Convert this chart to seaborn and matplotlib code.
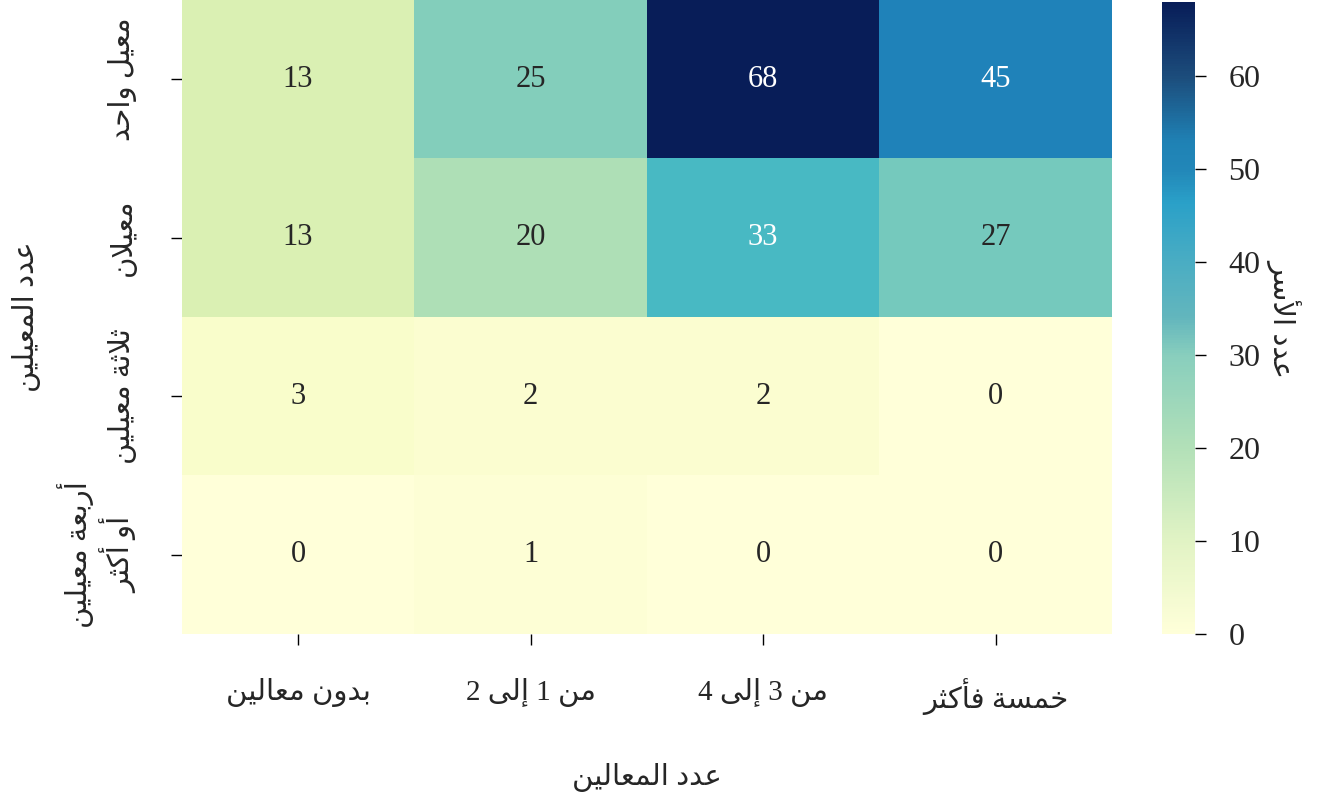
import re

import matplotlib
matplotlib.use("Agg")
import matplotlib.pyplot as plt
import pandas as pd
import seaborn as sns
from matplotlib.cm import ScalarMappable
from matplotlib.colors import LinearSegmentedColormap, Normalize

# --- data -------------------------------------------------------------
ROW_LABELS = ["معيل واحد", "معيلان", "ثلاثة معيلين", "أربعة معيلين\nأو أكثر"]
COL_LABELS = ["بدون معالين", "من 1 إلى 2", "من 3 إلى 4", "خمسة فأكثر"]
ROW_1 = [13, 25, 68, 45]
ROW_2 = [13, 20, 33, 27]
ROW_3 = [3, 2, 2, 0]
ROW_4 = [0, 1, 0, 0]
X_TITLE = "عدد المعالين"
Y_TITLE = "عدد المعيلين"
CBAR_TITLE = "عدد الأسر"
CBAR_TICKS = [0, 10, 20, 30, 40, 50, 60]
VMAX = 68

# the legend bar in the original is a smoother gradient than the cells
CBAR_STOP_VALUES = [0, 10, 20, 30, 34, 40, 46.5, 50, 53, 60, 68]
CBAR_STOP_COLORS = ["#ffffd9", "#e1f3c4", "#b2e0b8", "#88cebd", "#63b6bd",
                    "#4aadc3", "#2aa0c8", "#2287b8", "#1f82b5", "#1c4d7c",
                    "#081d58"]

# --- minimal arabic shaping (matplotlib has no text shaping) -----------
# letter: (isolated, final, initial, medial)
_FORMS = {
    "ا": (0xFE8D, 0xFE8E, None, None),
    "أ": (0xFE83, 0xFE84, None, None),
    "إ": (0xFE87, 0xFE88, None, None),
    "ب": (0xFE8F, 0xFE90, 0xFE91, 0xFE92),
    "ة": (0xFE93, 0xFE94, None, None),
    "ت": (0xFE95, 0xFE96, 0xFE97, 0xFE98),
    "ث": (0xFE99, 0xFE9A, 0xFE9B, 0xFE9C),
    "ح": (0xFEA1, 0xFEA2, 0xFEA3, 0xFEA4),
    "خ": (0xFEA5, 0xFEA6, 0xFEA7, 0xFEA8),
    "د": (0xFEA9, 0xFEAA, None, None),
    "ر": (0xFEAD, 0xFEAE, None, None),
    "س": (0xFEB1, 0xFEB2, 0xFEB3, 0xFEB4),
    "ع": (0xFEC9, 0xFECA, 0xFECB, 0xFECC),
    "ف": (0xFED1, 0xFED2, 0xFED3, 0xFED4),
    "ك": (0xFED9, 0xFEDA, 0xFEDB, 0xFEDC),
    "ل": (0xFEDD, 0xFEDE, 0xFEDF, 0xFEE0),
    "م": (0xFEE1, 0xFEE2, 0xFEE3, 0xFEE4),
    "ن": (0xFEE5, 0xFEE6, 0xFEE7, 0xFEE8),
    "ه": (0xFEE9, 0xFEEA, 0xFEEB, 0xFEEC),
    "و": (0xFEED, 0xFEEE, None, None),
    "ى": (0xFEEF, 0xFEF0, None, None),
    "ي": (0xFEF1, 0xFEF2, 0xFEF3, 0xFEF4),
}
_LAM_ALEF = {"ا": (0xFEFB, 0xFEFC), "أ": (0xFEF7, 0xFEF8), "إ": (0xFEF9, 0xFEFA)}


def _shape(text):
    res = []
    prev_join = False
    i = 0
    while i < len(text):
        c = text[i]
        nxt = text[i + 1] if i + 1 < len(text) else ""
        if c == "ل" and nxt in _LAM_ALEF:
            iso, fin = _LAM_ALEF[nxt]
            res.append(chr(fin if prev_join else iso))
            prev_join = False
            i += 2
            continue
        f = _FORMS.get(c)
        if f is None:
            res.append(c)
            prev_join = False
            i += 1
            continue
        iso, fin, ini, med = f
        next_joins = ini is not None and nxt in _FORMS
        if prev_join:
            res.append(chr(med if next_joins else fin))
        else:
            res.append(chr(ini if next_joins else iso))
        prev_join = ini is not None
        i += 1
    return "".join(res)


def ar(text):
    lines = []
    for line in text.split("\n"):
        tokens = re.findall(r"\d+|\D+", _shape(line))
        lines.append("".join(t if t.isdigit() else t[::-1] for t in reversed(tokens)))
    return "\n".join(lines)


# --- plot -------------------------------------------------------------
df = pd.DataFrame(
    [ROW_1, ROW_2, ROW_3, ROW_4],
    index=[ar(s) for s in ROW_LABELS],
    columns=[ar(s) for s in COL_LABELS],
)

sns.set_theme(style="white")
plt.rcParams["font.family"] = ["Liberation Serif", "DejaVu Sans"]

fig = plt.figure(figsize=(13.27, 8.07), dpi=100)
ax = fig.add_axes([0.137, 0.2144, 0.701, 0.7856])
cax = fig.add_axes([0.8757, 0.2144, 0.0249, 0.7831])

sns.heatmap(
    df,
    ax=ax,
    cmap="YlGnBu",
    vmin=0,
    vmax=VMAX,
    annot=True,
    fmt="d",
    annot_kws={"size": 22},
    cbar=False,
)

ax.tick_params(axis="both", length=8, width=1, color="black", direction="out",
               bottom=True, left=True, labelsize=21, pad=24)
ax.set_yticklabels(ax.get_yticklabels(), rotation=90, va="center", ma="center")
ax.set_xticklabels(ax.get_xticklabels(), rotation=0)
ax.set_xlabel(ar(X_TITLE), fontsize=21, labelpad=34)
ax.set_ylabel(ar(Y_TITLE), fontsize=21, labelpad=12)

bar_cmap = LinearSegmentedColormap.from_list(
    "bar", [(v / VMAX, c) for v, c in zip(CBAR_STOP_VALUES, CBAR_STOP_COLORS)]
)
cb = fig.colorbar(ScalarMappable(Normalize(0, VMAX), bar_cmap), cax=cax,
                  ticks=CBAR_TICKS)
cb.outline.set_visible(False)
cax.tick_params(length=8, width=1, color="black", labelsize=23, pad=16, right=True)
cax.set_ylabel(ar(CBAR_TITLE), fontsize=21, rotation=270, labelpad=30)

fig.savefig("out.png", dpi=100)
